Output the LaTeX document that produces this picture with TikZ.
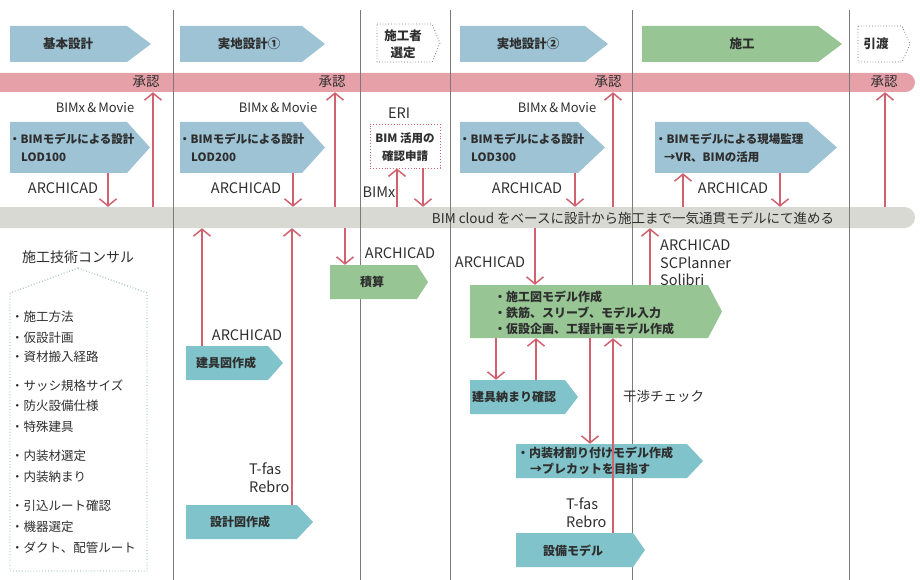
\documentclass[tikz,border=0pt]{standalone}
\usepackage{fontspec}
\setmainfont{Noto Sans CJK JP}
\usetikzlibrary{arrows.meta,calc}
\definecolor{hblue}{HTML}{9DC3D4}
\definecolor{hteal}{HTML}{80C3CA}
\definecolor{hgreen}{HTML}{97C594}
\definecolor{pinkband}{HTML}{E5A0A8}
\definecolor{pinkarr}{HTML}{D0616E}
\definecolor{cloudgray}{HTML}{D9D9D3}
\definecolor{sepgray}{HTML}{7A7A7A}
\definecolor{txt}{HTML}{2E2E2E}
\definecolor{consult}{HTML}{7FA9A6}
\newcommand\chevbox[7]{% name, style, x1, y1, x2, y2, tipx
  \path[#2] (#3,#4) -- (#7,#4) -- (#5,{(#4+#6)/2}) -- (#7,#6) -- (#3,#6) -- cycle;
  \node[inner sep=0,minimum width={(#7-#3)*1pt},minimum height={(#6-#4)*1pt}] (#1) at ({(#3+#7)/2},{(#4+#6)/2}) {};
}
\tikzset{
  parr/.style={draw=pinkarr, line width=1.5pt, -{Straight Barb[length=7pt,width=17pt,line width=1.5pt]}},
  sepline/.style={draw=sepgray, line width=0.8pt},
  lbl/.style={inner sep=0, text=txt, font=\fontsize{13}{15}\selectfont},
  latl/.style={inner sep=0, text=txt, font=\fontsize{14.5}{17}\selectfont},
  htxt/.style={inner sep=0, text=txt, font=\bfseries\fontsize{12.5}{17}\selectfont, align=center},
  btxt/.style={inner sep=0, text=txt, anchor=west, font=\bfseries\fontsize{11.5}{14}\selectfont},
  ctxt/.style={inner sep=0, text=txt, font=\bfseries\fontsize{12}{14}\selectfont},
  litem/.style={inner sep=0, text=txt, anchor=west, font=\fontsize{12.5}{14}\selectfont},
  toolt/.style={inner sep=0, text=txt, anchor=west, font=\fontsize{14.5}{17}\selectfont},
  fblue/.style={fill=hblue},
  fteal/.style={fill=hteal},
  fgreen/.style={fill=hgreen},
  fdot/.style={draw=sepgray, dotted, line width=0.8pt, fill=white},
}
\begin{document}
\begin{tikzpicture}[x=1pt,y=-1pt]
\useasboundingbox (0,0) rectangle (920,580);
% bands
\node[fill=pinkband, rounded corners=9.5pt, minimum width=935pt, minimum height=19pt, inner sep=0] (approve) at (447.5,82.5) {};
\node[fill=cloudgray, rounded corners=10.5pt, minimum width=935pt, minimum height=21pt, inner sep=0] (cloud) at (447.5,217.5) {};
% separators
\foreach \sx in {173,360,450,632,849} \draw[sepline] (\sx,10) -- (\sx,580);
% header chevrons
\chevbox{h1}{fblue}{10}{26}{151}{62}{127}
\chevbox{h2}{fblue}{180}{26}{325}{62}{302}
\chevbox{h3}{fdot}{377}{24}{440}{62}{432}
\chevbox{h4}{fblue}{460}{26}{608}{62}{585}
\chevbox{h5}{fgreen}{642}{26}{842}{62}{818}
\chevbox{h6}{fdot}{858}{26}{910}{62}{902}
\node[htxt] (h1t) at (68,44) {基本設計};
\node[htxt] (h2t) at (249,44) {実地設計①};
\node[htxt] (h3t) at (403,44) {施工者\\選定};
\node[htxt] (h4t) at (528,44) {実地設計②};
\node[htxt] (h5t) at (742,44) {施工};
\node[htxt] (h6t) at (876,44) {引渡};
% approvals
\node[lbl, font=\fontsize{13.5}{15}\selectfont] (ap1) at (146,82) {承認};
\node[lbl, font=\fontsize{13.5}{15}\selectfont] (ap2) at (332,82) {承認};
\node[lbl, font=\fontsize{13.5}{15}\selectfont] (ap3) at (608,82) {承認};
\node[lbl, font=\fontsize{13.5}{15}\selectfont] (ap4) at (884,82) {承認};
% BIMx & Movie
\node[lbl] (bm1) at (95,108) {BIMx\,\&\,Movie};
\node[lbl] (bm2) at (278,108) {BIMx\,\&\,Movie};
\node[lbl] (bm3) at (557,108) {BIMx\,\&\,Movie};
\node[latl] (eril) at (399,113) {ERI};
% design boxes
\chevbox{b1}{fblue}{10}{122}{150}{173}{127}
\chevbox{b2}{fblue}{180}{122}{325}{173}{302}
\chevbox{b4}{fblue}{460}{122}{605}{173}{578}
\chevbox{b5}{fblue}{655}{122}{837}{173}{808}
\node[draw=pinkarr, dotted, line width=0.9pt, minimum width=70pt, minimum height=44pt, inner sep=0] (eri) at (405,146) {};
\node[btxt] (b1a) at (9,139) {・BIMモデルによる設計};
\node[btxt] (b1b) at (21,157) {LOD100};
\node[btxt] (b2a) at (179,139) {・BIMモデルによる設計};
\node[btxt] (b2b) at (191,157) {LOD200};
\node[btxt] (b4a) at (459,139) {・BIMモデルによる設計};
\node[btxt] (b4b) at (471,157) {LOD300};
\node[btxt] (b5a) at (655,139) {・BIMモデルによる現場監理};
\node[btxt] (b5b) at (664,157) {→VR、BIMの活用};
\node[ctxt, font=\bfseries\fontsize{11.5}{14}\selectfont] (e1) at (405,138) {BIM 活用の};
\node[ctxt, font=\bfseries\fontsize{11.5}{14}\selectfont] (e2) at (405,156) {確認申請};
% ARCHICAD row
\node[latl] (ac1) at (63,188) {ARCHICAD};
\node[latl] (ac2) at (246,188) {ARCHICAD};
\node[latl] (ac4) at (527,188) {ARCHICAD};
\node[latl] (ac5) at (733,188) {ARCHICAD};
\node[latl] (bimx) at (379,192) {BIMx};
\node[lbl, font=\fontsize{13.5}{15}\selectfont] (cloudt) at (633,218) {BIM cloud をベースに設計から施工まで一気通貫モデルにて進める};
% consultant
\node[lbl, font=\fontsize{14}{16}\selectfont] (cons) at (78,257) {施工技術コンサル};
\draw[draw=consult, dotted, line width=0.9pt] (78,268) -- (147,293) -- (147,571) -- (10,571) -- (10,293) -- cycle;
\node[litem] (c1) at (11,317) {・施工方法};
\node[litem] (c2) at (11,338) {・仮設計画};
\node[litem] (c3) at (11,357) {・資材搬入経路};
\node[litem] (c4) at (11,386) {・サッシ規格サイズ};
\node[litem] (c5) at (11,406) {・防火設備仕様};
\node[litem] (c6) at (11,427) {・特殊建具};
\node[litem] (c7) at (11,456) {・内装材選定};
\node[litem] (c8) at (11,477) {・内装納まり};
\node[litem] (c9) at (11,506) {・引込ルート確認};
\node[litem] (c10) at (11,527) {・機器選定};
\node[litem] (c11) at (11,548) {・ダクト、配管ルート};
% column 2 lower
\chevbox{tg}{fteal}{186}{346}{283}{380}{268}
\chevbox{sk}{fteal}{186}{505}{313}{539}{297}
\node[ctxt] (tgt) at (226,363) {建具図作成};
\node[ctxt] (skt) at (240,522) {設計図作成};
\node[latl] (ac6) at (247,335) {ARCHICAD};
\node[toolt] (tf1) at (249,469) {T-fas};
\node[toolt] (tf2) at (249,487) {Rebro};
% sekisan
\chevbox{sek}{fgreen}{330}{265}{428}{299}{417}
\node[ctxt] (sekt) at (372,282) {積算};
\node[latl] (ac7) at (400,253) {ARCHICAD};
% column 4 lower
\node[latl] (ac8) at (490,262) {ARCHICAD};
\chevbox{big}{fgreen}{470}{285}{722}{338}{708}
\node[btxt, font=\bfseries\fontsize{12}{14}\selectfont] (g1) at (494,297) {・施工図モデル作成};
\node[btxt, font=\bfseries\fontsize{12}{14}\selectfont] (g2) at (494,313) {・鉄筋、スリーブ、モデル入力};
\node[btxt, font=\bfseries\fontsize{12}{14}\selectfont] (g3) at (494,329) {・仮設企画、工程計画モデル作成};
\node[toolt] (sc1) at (660,245) {ARCHICAD};
\node[toolt] (sc2) at (660,263) {SCPlanner};
\node[toolt] (sc3) at (660,280) {Solibri};
\chevbox{tg2}{fteal}{470}{380}{578}{414}{565}
\node[ctxt] (tg2t) at (514,397) {建具納まり確認};
\node[lbl, anchor=west, font=\fontsize{13.5}{15}\selectfont] (kan) at (623,396) {干渉チェック};
\chevbox{ns}{fteal}{516}{444}{703}{478}{687}
\node[btxt, font=\bfseries\fontsize{12}{14}\selectfont] (ns1) at (517,453) {・内装材割り付けモデル作成};
\node[btxt, font=\bfseries\fontsize{12}{14}\selectfont] (ns2) at (530,469) {→プレカットを目指す};
\node[toolt] (tf3) at (566,504) {T-fas};
\node[toolt] (tf4) at (566,522) {Rebro};
\chevbox{sb}{fteal}{516}{533}{645}{567}{633}
\node[ctxt] (sbt) at (573,551) {設備モデル};
% arrow x positions
\foreach \n/\ax in {a1/108,a2/153,a3/293,a4/335,a5/397,a6/423,a7/575,a8/613,a9/683,a10/780,a11/885,a12/202,a13/292,a14/345,a15/535,a16/650,a17/496,a18/536,a19/590,a20/613}
  \coordinate (\n) at (\ax,0);
% arrows
\draw[parr] (a1 |- b1.south) -- (a1 |- cloud.north);
\draw[parr] (a2 |- cloud.north) -- (a2 |- approve.south);
\draw[parr] (a3 |- b2.south) -- (a3 |- cloud.north);
\draw[parr] (a4 |- cloud.north) -- (a4 |- approve.south);
\draw[parr] (a5 |- cloud.north) -- (a5 |- eri.south);
\draw[parr] (a6 |- eri.south) -- (a6 |- cloud.north);
\draw[parr] (a7 |- b4.south) -- (a7 |- cloud.north);
\draw[parr] (a8 |- cloud.north) -- (a8 |- approve.south);
\draw[parr] (a9 |- cloud.north) -- (a9 |- b5.south);
\draw[parr] (a10 |- b5.south) -- (a10 |- cloud.north);
\draw[parr] (a11 |- cloud.north) -- (a11 |- approve.south);
\draw[parr] (a12 |- tg.north) -- (a12 |- cloud.south);
\draw[parr] (a13 |- sk.north) -- (a13 |- cloud.south);
\draw[parr] (a14 |- cloud.south) -- (a14 |- sek.north);
\draw[parr] (a15 |- cloud.south) -- (a15 |- big.north);
\draw[parr] (a16 |- big.north) -- (a16 |- cloud.south);
\draw[parr] (a17 |- big.south) -- (a17 |- tg2.north);
\draw[parr] (a18 |- tg2.north) -- (a18 |- big.south);
\draw[parr] (a19 |- big.south) -- (a19 |- ns.north);
\draw[parr] (a20 |- sb.north) -- (a20 |- big.south);
\end{tikzpicture}
\end{document}
